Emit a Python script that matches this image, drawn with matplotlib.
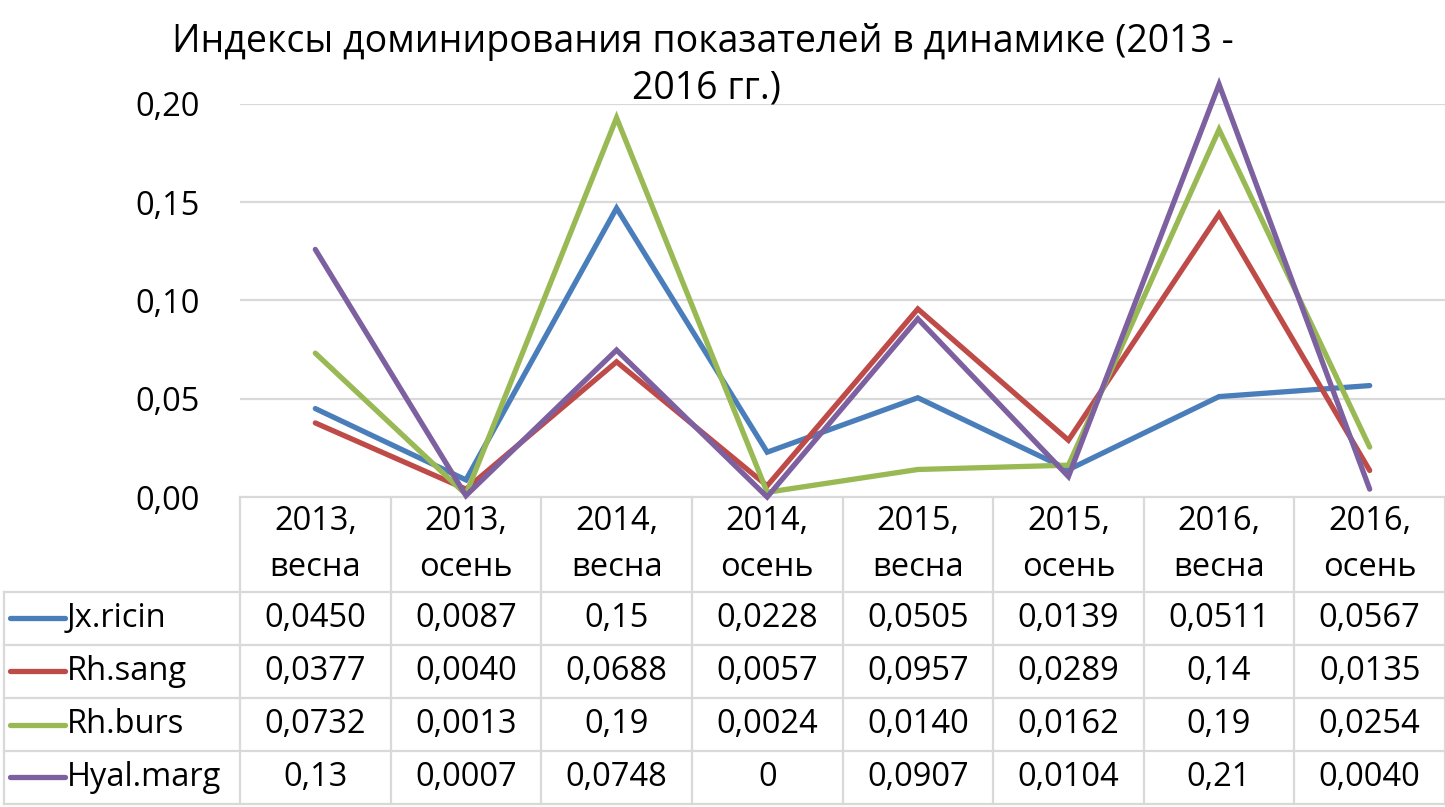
import matplotlib
matplotlib.use("Agg")
import matplotlib.pyplot as plt
from matplotlib.transforms import blended_transform_factory

# ---------------- data ----------------
categories = ["2013,\nвесна", "2013,\nосень", "2014,\nвесна", "2014,\nосень",
              "2015,\nвесна", "2015,\nосень", "2016,\nвесна", "2016,\nосень"]
series_names = ["Jx.ricin", "Rh.sang", "Rh.burs", "Hyal.marg"]
jx_ricin = [0.0450, 0.0087, 0.147, 0.0228, 0.0505, 0.0139, 0.0511, 0.0567]
rh_sang = [0.0377, 0.0040, 0.0688, 0.0057, 0.0957, 0.0289, 0.144, 0.0135]
rh_burs = [0.0732, 0.0013, 0.193, 0.0024, 0.0140, 0.0162, 0.187, 0.0254]
hyal_marg = [0.126, 0.0007, 0.0748, 0.0, 0.0907, 0.0104, 0.210, 0.0040]
series_values = [jx_ricin, rh_sang, rh_burs, hyal_marg]
colors = ["#4A7EBB", "#BE4B48", "#98B954", "#7D60A0"]
yticks = [0.00, 0.05, 0.10, 0.15, 0.20]
title_lines = ["Индексы доминирования показателей в динамике (2013 -", "2016 гг.)"]


def fmt(v):
    if v == 0:
        return "0"
    s = f"{v:.2f}" if v >= 0.1 else f"{v:.4f}"
    return s.replace(".", ",")


plt.rcParams["font.family"] = ["Open Sans", "DejaVu Sans"]
FS = 23.5
TFS = 27
GRID = "#D9D9D9"

W, H = 1445, 807
fig = plt.figure(figsize=(W / 100, H / 100), dpi=100)
ax = fig.add_axes([240 / W, 1 - 497 / H, 1205 / W, 393 / H])

x = list(range(len(categories)))
for vals, c in zip(series_values, colors):
    ax.plot(x, vals, color=c, lw=3.8, solid_capstyle="round",
            solid_joinstyle="miter", clip_on=False, zorder=3)

ax.set_xlim(-0.5, len(categories) - 0.5)
ax.set_ylim(0, 0.20)
ax.set_yticks(yticks)
ax.set_yticklabels([f"{t:.2f}".replace(".", ",") for t in yticks], fontsize=FS)
ax.tick_params(axis="y", length=0, pad=29)
ax.set_xticks([])
for s in ax.spines.values():
    s.set_visible(False)
for t in yticks[1:]:
    ax.axhline(t, color=GRID, lw=1.6, zorder=1)

# ---------------- data table ----------------
tr = blended_transform_factory(ax.transData, ax.transAxes)
ax_h = 393.0
hdr_b = -95 / ax_h
row_h = -53 / ax_h
n = len(categories)
left_fig = ax.transData.inverted().transform(fig.transFigure.transform((0.003, 0)))[0]


def hline(y, x0, x1):
    ax.plot([x0, x1], [y, y], color=GRID, lw=1.6, transform=tr, clip_on=False, zorder=1)


def vline(xv, y0, y1):
    ax.plot([xv, xv], [y0, y1], color=GRID, lw=1.6, transform=tr, clip_on=False, zorder=1)


hline(0, -0.5, n - 0.5)
bottom = hdr_b + row_h * len(series_names)
for r in range(len(series_names) + 1):
    hline(hdr_b + row_h * r, left_fig, n - 0.5)
for i in range(n + 1):
    vline(i - 0.5, 0, bottom)
vline(left_fig, hdr_b, bottom)

for i, cat in enumerate(categories):
    ax.text(i, hdr_b / 2, cat, transform=tr, ha="center", va="center",
            fontsize=FS, linespacing=1.55, clip_on=False)

for r, (name, vals, c) in enumerate(zip(series_names, series_values, colors)):
    yc = hdr_b + row_h * (r + 0.5)
    kx0 = left_fig + 0.035
    kx1 = left_fig + 0.40
    ax.plot([kx0, kx1], [yc, yc], color=c, lw=3.8, solid_capstyle="round",
            transform=tr, clip_on=False)
    ax.text(kx1 + 0.015, yc, name, transform=tr, ha="left", va="center",
            fontsize=FS, clip_on=False)
    for i, v in enumerate(vals):
        ax.text(i, yc, fmt(v), transform=tr, ha="center", va="center",
                fontsize=FS, clip_on=False)

fig.text(703 / W, 1 - 42 / H, title_lines[0], ha="center", va="center", fontsize=TFS)
fig.text(706 / W, 1 - 88 / H, title_lines[1], ha="center", va="center", fontsize=TFS)

fig.savefig("out.png", dpi=100)
